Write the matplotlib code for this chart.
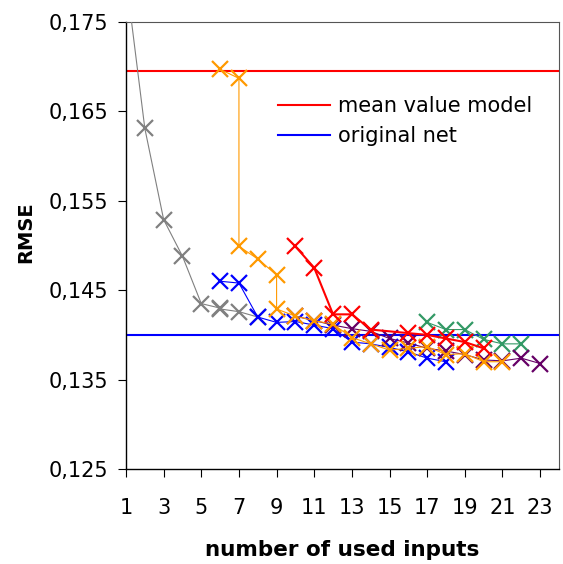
import matplotlib
matplotlib.use("Agg")
import matplotlib.pyplot as plt
from matplotlib.ticker import FuncFormatter

# reference levels
mean_value_model = 0.1695
original_net = 0.1400

# selection runs (x = number of used inputs, y = RMSE)
gray_x = [1, 2, 3, 4, 5, 6, 6, 7, 8]
gray_y = [0.1800, 0.1631, 0.1529, 0.1488, 0.1435, 0.1430, 0.1429, 0.1426, 0.1420]

blue_x = [6, 7, 8, 9, 10, 11, 12, 13, 14, 15, 16, 17, 18]
blue_y = [0.1460, 0.1458, 0.1420, 0.1414, 0.1415, 0.1411, 0.1407, 0.1392, 0.1390,
          0.1386, 0.1381, 0.1374, 0.1370]

purple_x = [10, 11, 12, 13, 14, 15, 16, 17, 18, 19, 20, 21, 22, 23]
purple_y = [0.1421, 0.1416, 0.1411, 0.1407, 0.1404, 0.1396, 0.1391, 0.1385, 0.1382,
            0.1378, 0.1372, 0.1371, 0.1374, 0.1368]

orange_x = [6, 7, 7, 8, 9, 9, 10, 11, 12, 13, 14, 15, 16, 17, 18, 19, 20, 21]
orange_y = [0.1697, 0.1687, 0.1499, 0.1485, 0.1467, 0.1429, 0.1421, 0.1416, 0.1412,
            0.1397, 0.1390, 0.1383, 0.1385, 0.1387, 0.1378, 0.1379, 0.1370, 0.1370]

green_x = [17, 18, 19, 20, 21, 22]
green_y = [0.1414, 0.1406, 0.1406, 0.1395, 0.1390, 0.1390]

red_x = [10, 11, 12, 13, 14, 16, 17, 18, 19, 20]
red_y = [0.1499, 0.1475, 0.1423, 0.1423, 0.1406, 0.1402, 0.1400, 0.1396, 0.1392, 0.1385]

fig = plt.figure(figsize=(5.63, 5.64), dpi=100)
ax = fig.add_axes([0.2238, 0.1684, 0.769, 0.7926])

l1 = ax.axhline(mean_value_model, color="#FF0000", lw=1.5, label="mean value model", zorder=2)
l2 = ax.axhline(original_net, color="#0000FF", lw=1.5, label="original net", zorder=2)

mk = dict(marker="x", markersize=11, markeredgewidth=1.6)
ax.plot(gray_x, gray_y, color="#808080", lw=0.8, zorder=3, **mk)
ax.plot(blue_x, blue_y, color="#0000FF", lw=0.8, zorder=4, **mk)
ax.plot(purple_x, purple_y, color="#660066", lw=0.8, zorder=5, **mk)
ax.plot(orange_x, orange_y, color="#FF9900", lw=0.8, zorder=6, **mk)
ax.plot(green_x, green_y, color="#339966", lw=0.8, zorder=3, **mk)
ax.plot(red_x, red_y, color="#FF0000", lw=1.5, zorder=7, **mk)

ax.set_xlim(1, 24)
ax.set_ylim(0.125, 0.175)
ax.set_xticks(range(1, 24, 2))
ax.set_yticks([0.125, 0.135, 0.145, 0.155, 0.165, 0.175])
ax.yaxis.set_major_formatter(FuncFormatter(lambda v, p: f"{v:.3f}".replace(".", ",")))

ax.tick_params(axis="both", direction="out", length=6, width=0.8, labelsize=15)
ax.tick_params(axis="x", pad=15)
ax.tick_params(axis="y", pad=7)

for s in ["left", "bottom"]:
    ax.spines[s].set_color("black")
    ax.spines[s].set_linewidth(1.0)
for s in ["top", "right"]:
    ax.spines[s].set_color("#555555")
    ax.spines[s].set_linewidth(0.8)

ax.set_xlabel("number of used inputs", fontsize=15.5, fontweight="bold", labelpad=16)
ax.set_ylabel("RMSE", fontsize=14, fontweight="bold")
ax.yaxis.set_label_coords(-0.21, 0.53)

ax.legend(handles=[l1, l2], loc="upper left", bbox_to_anchor=(0.351, 0.834),
          frameon=False, fontsize=15, handlelength=2.5, handletextpad=0.4,
          labelspacing=0.48, borderpad=0, borderaxespad=0)

fig.savefig("out.png", dpi=100)
